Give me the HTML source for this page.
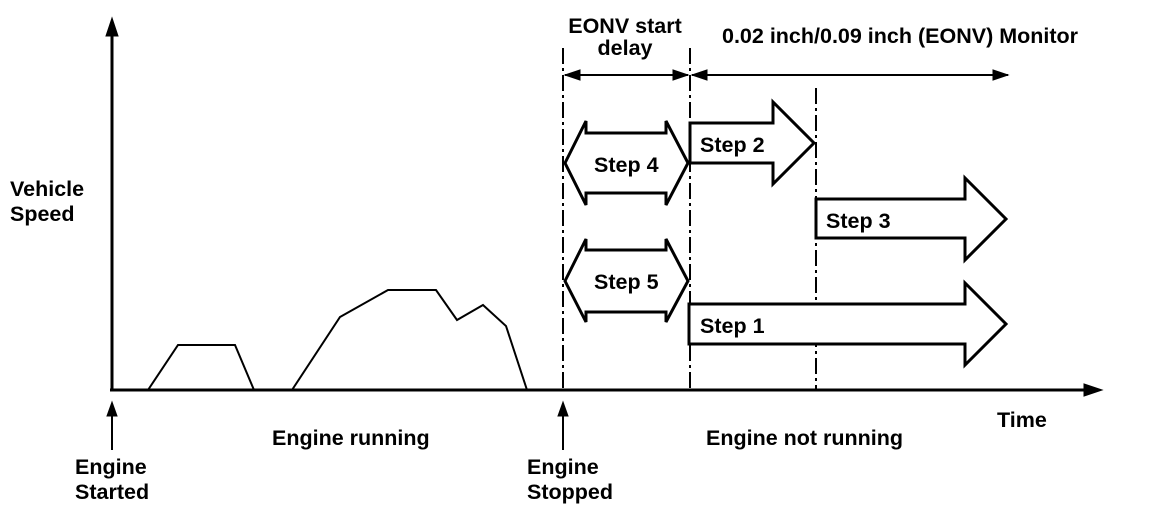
<!DOCTYPE html>
<html><head><style>
body{margin:0;background:#fff;}
svg{display:block;font-family:"Liberation Sans",Arial,sans-serif;font-weight:bold;}
</style></head><body>
<svg width="1152" height="528" viewBox="0 0 1152 528" xmlns="http://www.w3.org/2000/svg">
<g stroke="#000" fill="none">
<line x1="112" y1="390" x2="112" y2="30" stroke-width="3"/>
<polygon points="112,18 106,36 118,36" fill="#000"/>
<line x1="110" y1="390" x2="1088" y2="390" stroke-width="3"/>
<polygon points="1102,390 1084,384 1084,396" fill="#000"/>
<polyline points="148,390 178,345 235,345 254,390" stroke-width="2"/>
<polyline points="292,390 340,317 388,290 436,290 457,320 483,305 506,326 527,390" stroke-width="2"/>
<g stroke-width="2" stroke-dasharray="16,4,3,4">
<line x1="563" y1="48" x2="563" y2="390"/>
<line x1="690" y1="48" x2="690" y2="390"/>
<line x1="816" y1="88" x2="816" y2="390"/>
</g>
<line x1="112" y1="450" x2="112" y2="412" stroke-width="2"/>
<polygon points="112,402 107,416 117,416" fill="#000"/>
<line x1="563" y1="450" x2="563" y2="412" stroke-width="2"/>
<polygon points="563,402 558,416 568,416" fill="#000"/>
<line x1="565" y1="75" x2="688" y2="75" stroke-width="2"/>
<polygon points="565,75 580,70 580,80" fill="#000"/>
<polygon points="688,75 673,70 673,80" fill="#000"/>
<line x1="692" y1="75" x2="1008" y2="75" stroke-width="2"/>
<polygon points="692,75 707,70 707,80" fill="#000"/>
<polygon points="1008,75 993,70 993,80" fill="#000"/>
<g stroke-width="3" fill="#fff">
<polygon points="565,163 586,121 586,133 666,133 666,121 688,163 666,205 666,193 586,193 586,205"/>
<polygon points="565,281 586,239 586,250 666,250 666,239 688,281 666,322 666,312 586,312 586,322"/>
<polygon points="690,123 773,123 773,102 814,143 773,184 773,163 690,163"/>
<polygon points="816,199 965,199 965,178 1006,219 965,260 965,238 816,238"/>
<polygon points="689,304 965,304 965,283 1006,324 965,365 965,344 689,344"/>
</g>
</g>
<g font-size="21.5" fill="#000">
<text x="10" y="196">Vehicle</text>
<text x="10" y="221">Speed</text>
<text x="75" y="474">Engine</text>
<text x="75" y="499">Started</text>
<text x="272" y="445">Engine running</text>
<text x="527" y="474">Engine</text>
<text x="527" y="499">Stopped</text>
<text x="706" y="445">Engine not running</text>
<text x="997" y="427">Time</text>
<text x="625" y="33" text-anchor="middle">EONV start</text>
<text x="625" y="55" text-anchor="middle">delay</text>
<text x="722" y="43">0.02 inch/0.09 inch (EONV) Monitor</text>
<text x="594" y="172">Step 4</text>
<text x="594" y="289">Step 5</text>
<text x="700" y="152">Step 2</text>
<text x="826" y="228">Step 3</text>
<text x="700" y="333">Step 1</text>
</g>
</svg>
</body></html>
